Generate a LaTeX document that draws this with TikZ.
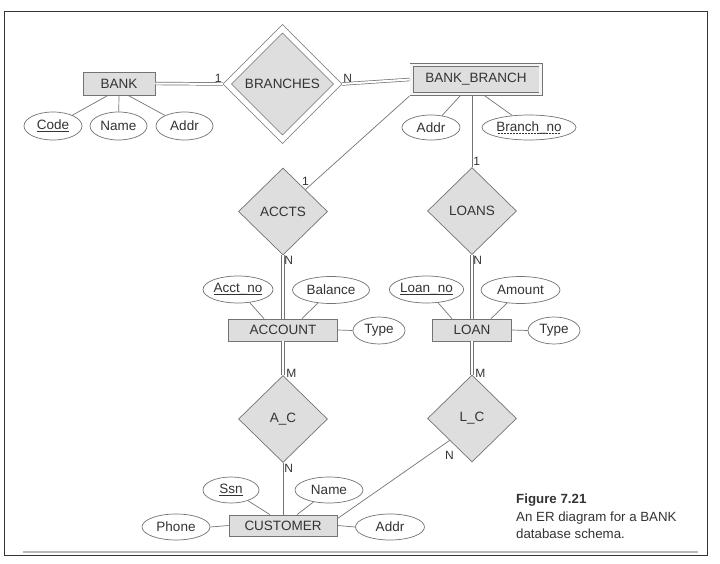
\documentclass[tikz,border=0pt]{standalone}
\usepackage{fontspec}
\setmainfont{Liberation Sans}
\usetikzlibrary{shapes.geometric,positioning}

\definecolor{erline}{gray}{0.45}
\definecolor{erfill}{gray}{0.87}
\definecolor{ertext}{gray}{0.2}

% key attributes: solid and dashed underline
\newsavebox\keybox
\newcommand{\ulkey}[1]{\sbox\keybox{#1}\rlap{\rule[-2.2pt]{\wd\keybox}{0.6pt}}\usebox\keybox}
\newcommand{\dulkey}[1]{\sbox\keybox{#1}\rlap{\raisebox{-2.2pt}{\hbox to \wd\keybox{%
  \cleaders\hbox to 3pt{\hss\rule{1.6pt}{0.6pt}\hss}\hfill}}}\usebox\keybox}

\begin{document}
\begin{tikzpicture}[x=1pt,y=-1pt,
    every node/.style={text=ertext, font=\fontsize{13.5}{16}\selectfont},
    entity/.style={draw=erline, line width=0.7pt, fill=erfill, rectangle,
        inner sep=0pt, minimum height=22, minimum width=#1},
    entity/.default=80,
    weakentity/.style={entity=#1, line width=0.8pt, double=gray!8, double distance=2.4pt, outer sep=2pt},
    attr/.style={draw=erline, line width=0.7pt, fill=white, ellipse,
        inner sep=0pt, minimum height=27, minimum width=#1},
    attr/.default=57,
    rel/.style={draw=erline, line width=0.7pt, fill=erfill, diamond,
        inner sep=0pt, minimum width=89, minimum height=87},
    identrel/.style={rel, minimum width=113, minimum height=113,
        double=white, double distance=5pt, outer sep=3pt},
    conn/.style={draw=erline, line width=0.7pt},
    total/.style={conn, double=white, double distance=2pt},
    card/.style={font=\fontsize{12}{14}\selectfont, inner sep=1pt}]
  \useasboundingbox (0,0) rectangle (720,564);

  % frame
  \draw[line width=0.8pt, black!80] (4,11) rectangle (707,555);
  \draw[line width=2pt, gray!55] (23,552) -- (698,552);

  % entities and relationships
  \node[entity=72, minimum height=23] (BANK) at (119,83.5) {BANK};
  \node[identrel] (BRANCHES) at (282.5,84) {BRANCHES};
  \node[weakentity=129, minimum height=29] (BANKBRANCH) at (476,79.5) {BANK\_BRANCH};
  \node[rel] (ACCTS) at (283,211.5) {ACCTS};
  \node[rel] (LOANS) at (472,211) {LOANS};
  \node[entity=109] (ACCOUNT) at (283,330) {ACCOUNT};
  \node[entity=79] (LOAN) at (472,330) {LOAN};
  \node[rel] (AC) at (283,419) {A\_C};
  \node[rel] (LC) at (472,418.5) {L\_C};
  \node[entity=108, minimum height=21] (CUSTOMER) at (283,525.5) {CUSTOMER};

  % attributes
  \node[attr=58, minimum height=28] (bCode) at (53,126) {\ulkey{Code}};
  \node[attr, minimum height=28] (bName) at (118.5,126) {Name};
  \node[attr, minimum height=28] (bAddr) at (184.5,126) {Addr};
  \node[attr=58, minimum height=25] (brAddr) at (431,127.5) {Addr};
  \node[attr=94, minimum height=25] (brNo) at (529,127.5) {\dulkey{Branch\_no}};
  \node[attr=70] (aNo) at (238,289.5) {\ulkey{Acct\_no}};
  \node[attr=77] (aBal) at (331,290) {Balance};
  \node[attr=52] (aType) at (379,330.5) {Type};
  \node[attr=69] (lNo) at (426.5,289.5) {\ulkey{Loan\_no}};
  \node[attr=79] (lAmt) at (520.5,290) {Amount};
  \node[attr=52] (lType) at (554,330.5) {Type};
  \node[attr=56, minimum height=26] (cSsn) at (231,490) {\ulkey{Ssn}};
  \node[attr=68, minimum height=26] (cName) at (329,490) {Name};
  \node[attr=68, minimum height=26] (cPhone) at (176,527) {Phone};
  \node[attr=69, minimum height=26] (cAddr) at (390,527) {Addr};

  % attribute links
  \draw[conn] ([xshift=-11pt]BANK.south) -- (bCode);
  \draw[conn] (BANK.south) -- (bName);
  \draw[conn] ([xshift=9pt]BANK.south) -- (bAddr);
  \draw[conn] ([xshift=-16pt]BANKBRANCH.south) -- (brAddr);
  \draw[conn] ([xshift=9pt]BANKBRANCH.south) -- (brNo);
  \draw[conn] (aNo) -- ([xshift=-19pt]ACCOUNT.north);
  \draw[conn] (aBal) -- ([xshift=19pt]ACCOUNT.north);
  \draw[conn] (ACCOUNT.east) -- (aType.west);
  \draw[conn] (lNo) -- ([xshift=-20pt]LOAN.north);
  \draw[conn] (lAmt) -- ([xshift=19pt]LOAN.north);
  \draw[conn] (LOAN.east) -- (lType.west);
  \draw[conn] (cSsn) -- ([xshift=-13pt]CUSTOMER.north);
  \draw[conn] (cName) -- ([xshift=14pt]CUSTOMER.north);
  \draw[conn] (cPhone.east) -- (CUSTOMER.west);
  \draw[conn] (CUSTOMER.east) -- (cAddr.west);

  % relationship links
  \draw[total] (BANK.east) -- (BRANCHES.west) node[card, above left] (k1) {1};
  \draw[total] (BRANCHES.east) node[card, above right] (k2) {N} -- (BANKBRANCH.west);
  \draw[conn] (BANKBRANCH.south west) -- (ACCTS.north east) node[card, above=3pt] (k3) {1};
  \draw[conn] (LOANS.north |- BANKBRANCH.south) -- (LOANS.north) node[card, above right] (k4) {1};
  \draw[total] (ACCTS.south) node[card, below right] (k5) {N} -- (ACCOUNT.north);
  \draw[total] (LOANS.south) node[card, below right] (k6) {N} -- (LOAN.north);
  \draw[total] (ACCOUNT.south) -- (AC.north) node[card, above right=-4pt and 2pt] (k7) {M};
  \draw[total] (LOAN.south) -- (LC.north) node[card, above right=-4pt and 2pt] (k8) {M};
  \draw[conn] (AC.south) node[card, below right] (k9) {N} -- (CUSTOMER.north);
  \draw[conn] (LC.south west) node[card, below=9pt] (k10) {N} -- ([yshift=-4pt]CUSTOMER.north east);

  % caption
  \node[anchor=north west, align=left, inner sep=0pt,
        font=\fontsize{13.3}{17.5}\selectfont] (caption) at (516,494)
    {\textbf{Figure 7.21}\\An ER diagram for a BANK\\database schema.};
\end{tikzpicture}
\end{document}
